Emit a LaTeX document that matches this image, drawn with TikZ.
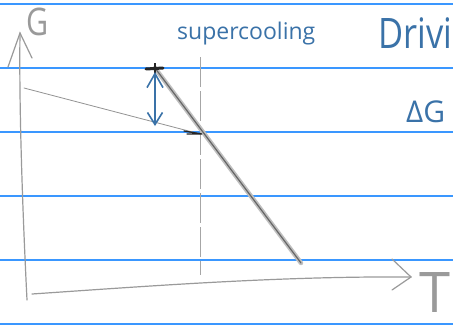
\documentclass[tikz,border=0pt]{standalone}
\usepackage{fontspec}
\setmainfont{Open Sans}
\usetikzlibrary{arrows.meta}
\definecolor{rule}{HTML}{3A97FF}
\definecolor{ink}{HTML}{3A72A8}
\definecolor{pencil}{HTML}{9A9A9A}
\tikzset{
  ruled/.style={rule, line width=1.6pt},
  axisline/.style={pencil, line width=1.2pt, line cap=round},
  liquid/.style={gray!85, line width=0.8pt, line cap=round},
  solidphase/.style={gray!50, line width=4.5pt, line cap=round},
  solidcore/.style={gray!80!black, line width=1.2pt, line cap=round},
  inktext/.style={ink, inner sep=0pt, anchor=north west},
  graytext/.style={pencil, inner sep=0pt, anchor=north west},
}
\begin{document}
\begin{tikzpicture}[x=1pt, y=-1pt]
\useasboundingbox (0,0) rectangle (453,327);
\fill[white] (0,0) rectangle (453,327);
% ruled paper lines
\foreach \yy in {4,68,132,196,260,324}
  \draw[ruled] (0,\yy) -- (453,\yy);

% axes
\coordinate (yb) at (27,300);
\coordinate (yt) at (20,33);
\coordinate (xl) at (32,294);
\coordinate (xr) at (411,277);
\draw[axisline] (yb) .. controls (22,200) and (19,100) .. (yt);
\draw[axisline] (8,67) -- (yt) -- (32,58);
\draw[axisline] (xl) .. controls (150,286) and (280,276) .. (xr);
\draw[axisline] (392,259) -- (xr) -- (392,290);
\node[graytext, font=\fontsize{38}{38}\selectfont] (glab) at (26,8) {\scalebox{0.8}[1]{G}};
\node[graytext, font=\fontsize{56}{56}\selectfont] (tlab) at (419,272) {T};

% supercooling line
\coordinate (st) at (200,57);
\coordinate (sb) at (200,275);
\draw[gray!70, line width=0.8pt, dash pattern=on 30pt off 4pt] (st) -- (sb);

% liquid and solid curves
\coordinate (la) at (24,88);
\coordinate (tm) at (200,134);
\coordinate (sa) at (155,68);
\coordinate (se) at (301,263);
\draw[liquid] (la) -- (tm);
\draw[solidphase] (sa) -- (se);
\draw[solidcore] (sa) -- (se);

% black marks
\draw[black!85, line width=3pt, line cap=round] (146,69) -- (163,68);
\draw[black!85, line width=1.5pt] (155,63) -- (155,74);
\draw[black!85, line width=1.3pt, line cap=round] (184,131) -- (202,134) -- (187,134);

% driving force arrow
\coordinate (at) at (155,72);
\coordinate (ab) at (155,126);
\draw[ink, line width=1.6pt, {Straight Barb[length=14pt,width=16pt]}-{Straight Barb[length=12pt,width=15pt]}] (at) -- (ab);

% labels
\node[inktext, font=\fontsize{23}{23}\selectfont] (sup) at (177,22) {supercooling};
\node[inktext, font=\fontsize{42}{42}\selectfont] (drv) at (378,17) {\scalebox{0.82}[1]{Drivi}};
\node[inktext, font=\fontsize{30}{30}\selectfont] (dg) at (406,101) {ΔG};
\end{tikzpicture}
\end{document}
